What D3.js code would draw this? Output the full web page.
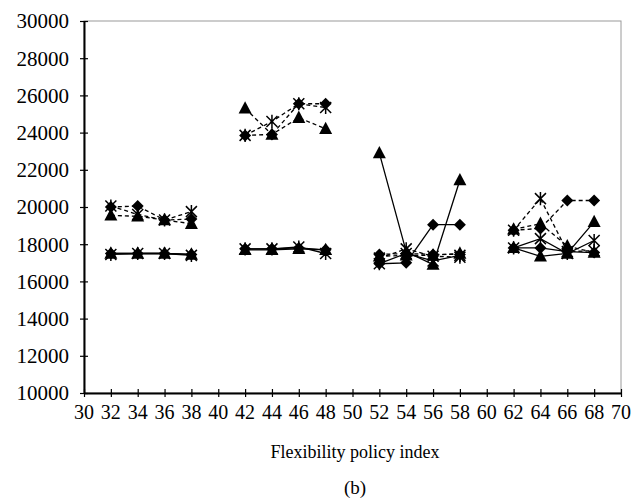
<!DOCTYPE html>
<html><head><meta charset="utf-8">
<script src="https://cdn.jsdelivr.net/npm/d3@7"></script>
<style>body{margin:0;background:#fff}svg{display:block}</style>
</head><body><div id="chart"></div>
<script>
const xValues = [32,34,36,38, 42,44,46,48, 52,54,56,58, 62,64,66,68];
const xTickLabels = ["30","32","34","36","38","40","42","44","46","48","50","52","54","56","58","60","62","64","66","68","70"];
const yTickLabels = ["10000","12000","14000","16000","18000","20000","22000","24000","26000","28000","30000"];
const xTitle = "Flexibility policy index";
const caption = "(b)";

// dashed series
const dashedDiamond  = [20000,20050,19300,19350, 23850,23900,25550,25550, 17450,17500,17450,17450, 18750,18850,20350,20350];
const dashedTriangle = [19550,19500,19300,19100, 25300,23900,24800,24200, 17350,17400,17400,17500, 18800,19100,17900,17550];
const dashedStar     = [20050,19600,19300,19750, 23850,24600,25550,25350, 17250,17750,17350,17300, 18750,20450,17600,17650];
// solid series
const solidDiamond   = [17500,17500,17500,17450, 17750,17750,17800,17700, 16950,17000,19050,19050, 17800,17800,17600,17550];
const solidTriangle  = [17500,17500,17500,17450, 17700,17700,17750,17700, 22900,17600,16900,21450, 17800,17350,17500,19200];
const solidStar      = [17450,17500,17500,17400, 17750,17750,17850,17500, 16950,17500,17100,17400, 17800,18300,17500,18200];

const series = [
  {values: dashedDiamond, marker: "diamond", dash: "4,3"},
  {values: dashedTriangle, marker: "triangle", dash: "4,3"},
  {values: dashedStar, marker: "star", dash: "4,3"},
  {values: solidDiamond, marker: "diamond", dash: null},
  {values: solidTriangle, marker: "triangle", dash: null},
  {values: solidStar, marker: "star", dash: null}
];
const groupOf = i => Math.floor(i / 4);

const W = 634, H = 502;
const FONT = "Liberation Serif";
const svg = d3.select("#chart").append("svg").attr("width", W).attr("height", H);
const mLeft = 84, mRight = 621, mTop = 21, mBottom = 393;
const x = d3.scaleLinear().domain([+xTickLabels[0], +xTickLabels[xTickLabels.length-1]]).range([mLeft, mRight]);
const y = d3.scaleLinear().domain([+yTickLabels[0], +yTickLabels[yTickLabels.length-1]]).range([mBottom, mTop]);

svg.append("rect").attr("x", mLeft).attr("y", mTop).attr("width", mRight-mLeft).attr("height", mBottom-mTop)
  .attr("fill","none").attr("stroke","#9a9a9a").attr("stroke-width",1);

// axes (lines + ticks)
const yAxis = d3.axisLeft(y).tickValues(yTickLabels.map(Number)).tickFormat("").tickSize(0);
const gy = svg.append("g").attr("transform", `translate(${mLeft},0)`).call(yAxis);
gy.select(".domain").attr("stroke","#000").attr("stroke-width",2);
gy.selectAll(".tick line").attr("x1",-4).attr("x2",4).attr("stroke","#000").attr("stroke-width",1.2);
gy.selectAll(".tick text").remove();

const xAxis = d3.axisBottom(x).tickValues(xTickLabels.map(Number)).tickFormat("").tickSize(0);
const gx = svg.append("g").attr("transform", `translate(0,${mBottom})`).call(xAxis);
gx.select(".domain").attr("stroke","#000").attr("stroke-width",2);
gx.selectAll(".tick line").attr("y1",-4).attr("y2",4).attr("stroke","#000").attr("stroke-width",1.2);
gx.selectAll(".tick text").remove();

// tick labels
svg.append("g").selectAll("text").data(yTickLabels).join("text")
  .attr("x", mLeft - 15).attr("y", d => y(+d)).attr("dy", "0.35em")
  .attr("text-anchor", "end").attr("font-family", FONT).attr("font-size", 21)
  .style("font-family", FONT).style("font-size", "21px").attr("fill", "#000").text(d => d);
svg.append("g").selectAll("text").data(xTickLabels).join("text")
  .attr("x", d => x(+d)).attr("y", mBottom + 19).attr("dy", "0.35em")
  .attr("text-anchor", "middle").attr("font-family", FONT).attr("font-size", 20)
  .style("font-family", FONT).style("font-size", "20px").attr("fill", "#000").text(d => d);

svg.append("text").attr("x", 355).attr("y", 458).attr("text-anchor","middle")
  .attr("font-family", FONT).attr("font-size", 18).text(xTitle);
svg.append("text").attr("x", 355).attr("y", 494).attr("text-anchor","middle")
  .attr("font-family", FONT).attr("font-size", 19).text(caption);

const plot = svg.append("g");
series.forEach(s => {
  const pts = s.values.map((v,i)=>({x:xValues[i], y:v, g:groupOf(i)}));
  const groups = d3.groups(pts, d=>d.g);
  const line = d3.line().x(d=>x(d.x)).y(d=>y(d.y));
  groups.forEach(([g, arr]) => {
    plot.append("path").attr("d", line(arr)).attr("fill","none").attr("stroke","#000")
      .attr("stroke-width", 1.3).attr("stroke-dasharray", s.dash);
  });
});
const markerPath = (type, r) => {
  if (type === "diamond") return `M0,${-r}L${r},0L0,${r}L${-r},0Z`;
  if (type === "triangle") return `M0,${-r*1.1}L${r},${r*0.8}L${-r},${r*0.8}Z`;
  return `M${-r},${-r}L${r},${r}M${-r},${r}L${r},${-r}M0,${-r*1.2}L0,${r*1.2}`;
};
series.forEach(s => {
  s.values.forEach((v,i) => {
    const p = plot.append("path").attr("transform", `translate(${x(xValues[i])},${y(v)})`);
    if (s.marker === "star") {
      p.attr("d", markerPath("star", 5.5)).attr("fill","none").attr("stroke","#000").attr("stroke-width",1.5);
    } else {
      p.attr("d", markerPath(s.marker, s.marker==="diamond"?6:6.5)).attr("fill","#000");
    }
  });
});
</script></body></html>
